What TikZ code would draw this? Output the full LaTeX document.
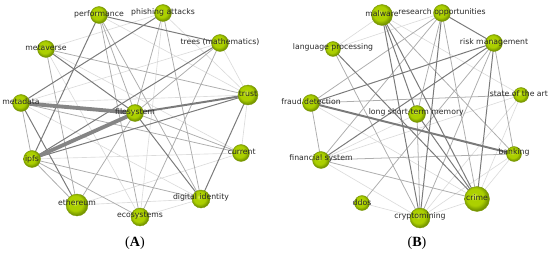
\documentclass[tikz,border=0pt]{standalone}
\usepackage{fontspec}
\setmainfont{DejaVu Sans}
\newfontfamily\captfont{Liberation Serif}
\usetikzlibrary{shadings}

\definecolor{lightgreen}{RGB}{225,245,90}
\definecolor{ballgreen}{RGB}{172,208,0}
\definecolor{darkgreen}{RGB}{118,150,0}
\definecolor{rimgreen}{RGB}{120,150,0}
\definecolor{labgray}{RGB}{40,40,40}

\pgfdeclareradialshading{greenball}{\pgfpoint{-6bp}{6bp}}{%
  color(0bp)=(lightgreen); color(8bp)=(ballgreen); color(17bp)=(ballgreen);
  color(25bp)=(darkgreen); color(50bp)=(darkgreen)}

\tikzset{
  kw/.style={circle, inner sep=0pt, draw=rimgreen, line width=0.5pt,
    shading=greenball, minimum size=#1*0.05cm},
  kw/.default=17,
  word/.style={text=labgray, font=\fontsize{11}{11}\selectfont, inner sep=0pt},
  eL/.style={draw=black!14, line width=0.9pt},
  eM/.style={draw=black!32, line width=1.1pt},
  eD/.style={draw=black!52, line width=1.4pt},
  eT/.style={draw=black!52, line width=2.8pt},
  eV/.style={draw=black!48, line width=5.5pt},
}

\begin{document}
\begin{tikzpicture}[x=0.05cm, y=-0.05cm]
  \useasboundingbox (0,0) rectangle (550,253);

  % Panel A: keyword positions
  \coordinate (perf)  at (99,15);
  \coordinate (phish) at (163,13);
  \coordinate (trees) at (220,43);
  \coordinate (metav) at (46,49);
  \coordinate (trust) at (248,95);
  \coordinate (metad) at (21,103);
  \coordinate (fs)    at (135,113);
  \coordinate (ipfs)  at (32,159);
  \coordinate (curr)  at (241,153);
  \coordinate (eth)   at (77,205);
  \coordinate (eco)   at (140,217);
  \coordinate (did)   at (201,199);

  % Panel B: keyword positions
  \coordinate (malw)     at (382,15);
  \coordinate (research) at (442,13);
  \coordinate (risk)     at (494,43);
  \coordinate (lang)     at (333,49);
  \coordinate (sota)     at (521,95);
  \coordinate (fraud)    at (311,103);
  \coordinate (lstm)     at (417,114);
  \coordinate (finsys)   at (321,160);
  \coordinate (bank)     at (514,154);
  \coordinate (ddos)     at (362,203);
  \coordinate (crypto)   at (420,218);
  \coordinate (crime)    at (477,199);

  % Panel A: co-occurrence links
  \foreach \a/\b in {metav/phish, metav/curr, metav/eco, trees/trust, trust/metad,
      trust/curr, eth/did, eth/curr, eco/did, ipfs/curr, phish/eco, trees/metad,
      perf/trust, metad/did, phish/trust}
    \draw[eL] (\a) -- (\b);
  \foreach \a/\b in {perf/eco, perf/did, phish/fs, phish/did, trees/fs, trees/eco,
      metad/ipfs, metad/curr, ipfs/did, ipfs/eth, metav/eth, metav/trust, fs/eth,
      eco/ipfs, fs/curr, perf/fs}
    \draw[eM] (\a) -- (\b);
  \foreach \a/\b in {perf/trees, trust/did, metav/fs, trees/ipfs, fs/did, ipfs/trust,
      perf/ipfs, metad/eth, phish/metad}
    \draw[eD] (\a) -- (\b);
  \draw[eT] (fs) -- (trust);
  \draw[eV] (metad) -- (fs);
  \draw[eV] (ipfs) -- (fs);

  % Panel B: co-occurrence links
  \foreach \a/\b in {malw/lang, malw/sota, research/lang, sota/crime, sota/crypto,
      ddos/crypto, crypto/crime, crime/bank, crypto/bank, finsys/crypto, lstm/finsys,
      fraud/crime, sota/finsys}
    \draw[eL] (\a) -- (\b);
  \foreach \a/\b in {research/fraud, research/finsys, research/crime, risk/bank,
      risk/crypto, sota/fraud, finsys/bank, finsys/crime, fraud/finsys, lstm/crypto,
      ddos/risk, malw/bank, research/lstm, lang/crypto}
    \draw[eM] (\a) -- (\b);
  \foreach \a/\b in {research/risk, malw/crime, malw/lstm, lang/crime, risk/fraud,
      risk/finsys, research/crypto, lstm/crime, malw/crypto, risk/crime}
    \draw[eD] (\a) -- (\b);
  \draw[eT] (fraud) -- (bank);

  % Panel A: keywords
  \node[kw] (nperf)  at (perf)  {};  \node[word] at ([yshift=1.5]perf)  {performance};
  \node[kw] (nphish) at (phish) {};  \node[word] at ([yshift=1.5]phish) {phishing attacks};
  \node[kw] (ntrees) at (trees) {};  \node[word] at ([yshift=1.5]trees) {trees (mathematics)};
  \node[kw] (nmetav) at (metav) {};  \node[word] at ([yshift=2]metav)   {metaverse};
  \node[kw=20] (ntrust) at (trust) {};  \node[word] at ([yshift=1.5]trust) {trust};
  \node[kw] (nmetad) at (metad) {};  \node[word] at ([yshift=2]metad)   {metadata};
  \node[kw] (nfs)    at (fs)    {};  \node[word] at ([yshift=1.5]fs)    {filesystem};
  \node[kw] (nipfs)  at (ipfs)  {};  \node[word] at (ipfs)              {ipfs};
  \node[kw] (ncurr)  at (curr)  {};  \node[word] at ([xshift=1,yshift=1.5]curr) {current};
  \node[kw=22] (neth) at (eth)  {};  \node[word] at ([yshift=3.5]eth)   {ethereum};
  \node[kw=18] (neco) at (eco)  {};  \node[word] at ([yshift=2]eco)     {ecosystems};
  \node[kw=18] (ndid) at (did)  {};  \node[word] at ([yshift=2]did)     {digital identity};

  % Panel B: keywords
  \node[kw=21] (nmalw) at (malw) {};  \node[word] at ([yshift=2]malw) {malware};
  \node[kw] (nresearch) at (research) {};  \node[word] at ([yshift=1.5]research) {research opportunities};
  \node[kw] (nrisk)   at (risk)   {};  \node[word] at ([yshift=1.5]risk)   {risk management};
  \node[kw=15] (nlang) at (lang)  {};  \node[word] at ([yshift=2]lang)     {language processing};
  \node[kw=15] (nsota) at (sota)  {};  \node[word] at ([xshift=-3,yshift=2]sota) {state of the art};
  \node[kw] (nfraud)  at (fraud)  {};  \node[word] at ([yshift=2]fraud)    {fraud detection};
  \node[kw] (nlstm)   at (lstm)   {};  \node[word] at ([xshift=-1,yshift=2]lstm) {long short-term memory};
  \node[kw] (nfinsys) at (finsys) {};  \node[word] at ([yshift=2]finsys)   {financial system};
  \node[kw=15] (nbank) at (bank)  {};  \node[word] at ([yshift=2]bank)     {banking};
  \node[kw=15] (nddos) at (ddos)  {};  \node[word] at ([yshift=1]ddos)     {ddos};
  \node[kw=20] (ncrypto) at (crypto) {};  \node[word] at ([yshift=3]crypto) {cryptomining};
  \node[kw=25] (ncrime)  at (crime)  {};  \node[word] at ([yshift=2]crime)  {crime};

  % Panel captions
  \node[font=\captfont\fontsize{20}{20}\selectfont, text=black] (captA) at (135,243) {(\textbf{A})};
  \node[font=\captfont\fontsize{20}{20}\selectfont, text=black] (captB) at (417,243) {(\textbf{B})};
\end{tikzpicture}
\end{document}
